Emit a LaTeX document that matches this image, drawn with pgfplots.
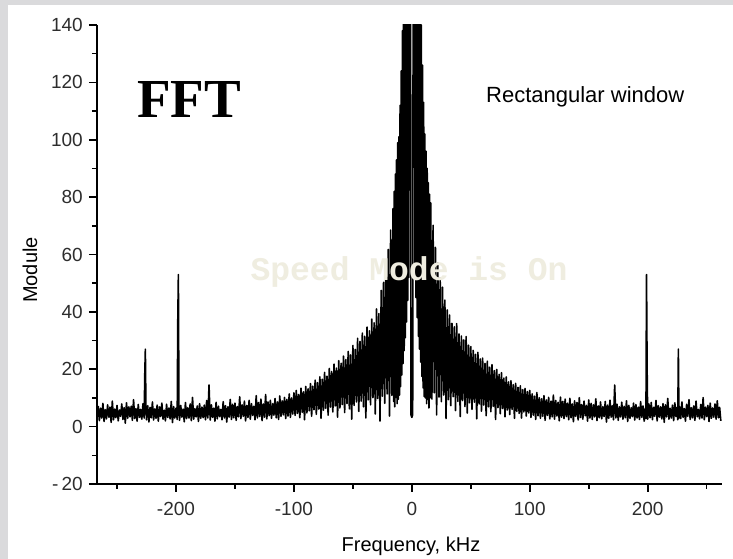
\documentclass[border=0pt]{standalone}
\usepackage{fontspec}
\setmainfont{Liberation Sans}
\newfontfamily\timesfont{Liberation Serif}
\newfontfamily\courfont{Liberation Mono}
\usepackage{pgfplots}
\pgfplotsset{compat=1.18}
\definecolor{framegray}{RGB}{218,218,220}
\definecolor{wmark}{RGB}{239,237,224}
\definecolor{ticktext}{RGB}{45,45,45}
\begin{document}
\begin{tikzpicture}
\useasboundingbox (0,0) rectangle (733bp,559bp);
\fill[framegray] (0,0) rectangle (733bp,559bp);
\fill[white] (8bp,0) rectangle (733bp,554bp);
\begin{axis}[
  at={(97bp,75bp)}, anchor=south west,
  scale only axis, width=625bp, height=459bp,
  xmin=-267, xmax=263, ymin=-20, ymax=140,
  axis x line*=bottom, axis y line*=left,
  axis line style={line width=1.8bp, black},
  tick align=outside,
  major tick length=8bp, minor tick length=5bp,
  tick style={line width=1.6bp, black},
  xtick={-200,-100,0,100,200},
  xticklabels={-200,-100,0,100,200},
  minor xtick={-250,-150,-50,50,150,250},
  ytick={-20,0,20,40,60,80,100,120,140},
  yticklabels={-\,20,0,20,40,60,80,100,120,140},
  minor ytick={-10,10,30,50,70,90,110,130},
  xticklabel style={font=\fontsize{19bp}{21bp}\selectfont, text=ticktext, inner sep=0pt, anchor=north, yshift=-10bp},
  yticklabel style={font=\fontsize{19bp}{21bp}\selectfont, text=ticktext, inner sep=0pt, anchor=east, xshift=-6bp},
  clip=true,
]
\addplot[black, line width=1.6bp, line join=round, mark=none] coordinates {
(-266,7.2)(-265,2.1)(-264,6.4)(-263,3.0)(-262,8.1)(-261,1.8)(-260,5.9)(-259,2.7)(-258,7.6)(-257,3.3)
(-256,6.8)(-255,1.5)(-254,8.9)(-253,2.4)(-252,6.1)(-251,3.1)(-250,7.4)(-249,2.0)(-248,5.8)(-247,3.6)
(-246,7.9)(-245,2.5)(-244,6.6)(-243,1.2)(-242,8.3)(-241,2.9)(-240,6.9)(-239,3.4)(-238,7.1)(-237,2.2)
(-236,9.4)(-235,2.8)(-234,6.3)(-233,1.9)(-232,7.7)(-231,3.2)(-230,6.0)(-229,2.6)(-228,8.0)(-227,3.0)
(-226.5,18)(-226,27)(-225.5,7.0)(-225,2.4)
(-224,7.3)(-223,1.6)(-222,6.7)(-221,3.1)(-220,8.6)(-219,2.3)(-218,6.2)(-217,2.9)(-216,7.5)(-215,1.9)
(-214,6.9)(-213,3.5)(-212,8.2)(-211,2.6)(-210,5.7)(-209,2.0)(-208,7.8)(-207,3.2)(-206,6.5)(-205,2.7)
(-204,8.8)(-203,1.4)(-202,7.0)(-201,3.0)(-200,6.4)(-199,2.5)
(-198.5,37)(-198,53)(-197.5,6.0)
(-197,2.2)(-196,7.4)(-195,3.3)(-194,6.1)(-193,1.7)(-192,8.4)(-191,2.8)
(-190,6.6)(-189,3.0)(-188,7.9)(-187,2.1)(-186,10.2)(-185,2.6)(-184,6.3)(-183,3.4)(-182,7.2)(-181,1.8)
(-180,8.0)(-179,2.9)(-178,6.8)(-177,3.1)(-176,7.5)(-175,2.4)(-174,9.1)(-173,3.0)
(-172,14.5)(-171,2.3)
(-170,7.6)(-169,3.2)(-168,6.4)(-167,1.9)(-166,8.5)(-165,2.7)(-164,7.1)(-163,3.5)(-162,6.0)(-161,2.4)
(-160,8.7)(-159,3.0)(-158,7.3)(-157,1.6)(-156,6.9)(-155,3.3)(-154,9.5)(-153,2.5)(-152,7.8)(-151,3.1)
(-150,8.2)(-149,2.2)(-148,7.0)(-147,3.4)(-146,10.4)(-145,2.8)(-144,7.6)(-143,3.6)(-142,8.9)(-141,2.0)
(-140,7.4)(-139,3.2)(-138,9.2)(-137,2.6)(-136,8.0)(-135,3.9)(-134,7.1)(-133,2.4)(-132,10.8)(-131,3.0)
(-130,8.4)(-129,3.5)(-128,9.6)(-127,2.1)(-126,7.9)(-125,3.3)(-124,11.2)(-123,2.7)(-122,8.6)(-121,3.8)
(-120,9.2)(-119,2.9)(-118,8.0)(-117,4.0)(-116,9.8)(-115,3.1)(-114,8.6)(-113,2.5)(-112,10.7)(-111,3.6)
(-110,9.0)(-109,4.1)(-108,10.2)(-107,2.8)(-106,9.5)(-105,3.7)(-104,11.4)(-103,3.2)(-102,10.0)(-101,4.4)
(-100,11.8)(-99,3.9)(-98,12.6)(-97,4.6)(-96,11.2)(-95,3.1)(-94,13.4)(-93,5.0)(-92,12.1)(-91,2.4)
(-90,14.0)(-89,4.8)(-88,13.2)(-87,5.5)(-86,15.0)(-85,3.6)(-84,14.1)(-83,5.9)(-82,16.2)(-81,4.3)
(-80,15.3)(-79,6.1)(-78,17.4)(-77,2.9)(-76,16.5)(-75,5.7)(-74,18.9)(-73,6.4)(-72,17.6)(-71,4.0)
(-70,20.3)(-69,6.8)(-68,19.2)(-67,5.1)(-66,21.8)(-65,7.2)(-64,20.4)(-63,3.3)(-62,23.0)(-61,6.5)
(-60,22.1)(-59,7.7)(-58,24.6)(-57,4.9)(-56,23.4)(-55,8.0)(-54,26.2)(-53,6.2)(-52,25.0)(-51,2.6)
(-50,28.3)(-49,7.4)(-48,26.9)(-47,8.6)(-46,30.8)(-45,5.3)(-44,29.7)(-43,8.9)(-42,32.6)(-41,6.9)
(-40,31.5)(-39,3.0)(-38,34.7)(-37,9.3)(-36,33.4)(-35,7.6)(-34,37.5)(-33,10.1)(-32,36.2)(-31,4.4)
(-30,41.0)(-29,9.8)(-28,39.4)(-27,1.9)(-26,47.5)(-25,10.6)(-24,50.3)(-23,8.1)(-22,56.4)(-21,11.4)
(-20,61.8)(-19,3.7)(-18,68.5)(-17,10.9)(-16,76.0)
(-15.5,8.8)(-15,82)(-14.5,6.9)(-14,88)(-13.5,10.2)(-13,93)(-12.5,8.0)(-12,99)(-11.5,9.5)(-11,101)
(-10.5,11.0)(-10,112)(-9.5,14.0)(-9,124)(-8.5,18.0)(-8,138)(-7.5,22.0)(-7,155)(-6.5,26.5)(-6,180)
(-5.5,31.0)(-5,200)(-4.5,36.5)(-4,220)(-3.5,44.0)(-3,240)(-2.6,52)(-2.2,270)(-1.9,98)(-1.5,320)
(-0.7,4.0)(0,3.2)(0.7,4.2)
(1.5,310)(1.9,105)(2.2,280)(2.6,55)(3,245)(3.5,45)(4,215)(4.5,38)(5,195)(5.5,31.5)
(6,178)(6.5,27)(7,158)(7.5,22.5)(8,140)(8.5,17.5)(9,126)(9.5,13.5)(10,113)(10.5,10.5)
(11,102)(11.5,10.0)(12,96)(12.5,8.0)(13,90)(13.5,9.5)(14,85)(14.5,6.5)(15,81)(15.5,10)
(16,78.0)(17,9.6)(18,70.2)(19,11.8)(20,62.5)(21,4.1)(22,57.0)(23,10.3)(24,51.8)(25,8.7)
(26,48.6)(27,11.0)(28,44.1)(29,2.8)(30,40.7)(31,9.4)(32,38.9)(33,7.3)(34,36.0)(35,10.4)
(36,34.8)(37,5.6)(38,35.9)(39,8.8)(40,32.3)(41,3.5)(42,31.6)(43,9.1)(44,30.2)(45,7.0)
(46,31.4)(47,4.7)(48,28.4)(49,8.3)(50,27.9)(51,6.0)(52,26.6)(53,8.5)(54,25.2)(55,2.7)
(56,25.9)(57,7.9)(58,23.6)(59,5.4)(60,23.9)(61,7.5)(62,22.0)(63,3.8)(64,22.8)(65,6.9)
(66,20.7)(67,5.2)(68,21.6)(69,7.1)(70,19.5)(71,2.5)(72,19.9)(73,6.6)(74,18.2)(75,4.5)
(76,18.8)(77,6.3)(78,16.9)(79,3.4)(80,17.3)(81,5.8)(82,15.6)(83,4.2)(84,16.0)(85,6.0)
(86,14.6)(87,2.9)(88,15.1)(89,5.3)(90,13.7)(91,4.6)(92,14.2)(93,3.0)(94,12.9)(95,5.1)
(96,13.3)(97,3.7)(98,12.2)(99,4.8)(100,12.6)
(101,3.2)(102,11.4)(103,4.0)(104,10.6)(105,2.5)(106,11.9)(107,3.8)(108,10.1)(109,2.9)(110,9.7)
(111,3.6)(112,10.8)(113,2.2)(114,9.3)(115,3.9)(116,10.2)(117,2.7)(118,8.9)(119,3.4)(120,11.0)
(121,2.6)(122,9.1)(123,3.7)(124,8.5)(125,2.0)(126,10.3)(127,3.3)(128,8.8)(129,2.8)(130,9.6)
(131,3.5)(132,8.2)(133,2.4)(134,9.9)(135,3.1)(136,7.9)(137,1.7)(138,9.0)(139,3.6)(140,8.4)
(141,2.3)(142,10.1)(143,3.2)(144,7.7)(145,2.6)(146,8.9)(147,3.8)(148,7.4)(149,1.9)(150,9.3)
(151,3.0)(152,8.1)(153,2.5)(154,7.6)(155,3.4)(156,9.7)(157,2.1)(158,7.2)(159,3.1)(160,8.6)
(161,2.7)(162,7.0)(163,3.5)(164,8.8)(165,1.6)(166,7.5)(167,2.9)(168,9.2)(169,3.3)(170,7.3)
(171,2.4)(172,14.5)(173,3.0)
(174,7.8)(175,2.2)(176,6.9)(177,3.4)(178,8.5)(179,2.6)(180,7.1)
(181,3.1)(182,9.0)(183,1.8)(184,7.4)(185,2.9)(186,6.6)(187,3.5)(188,8.2)(189,2.3)(190,7.7)
(191,3.0)(192,6.8)(193,2.5)(194,8.7)(195,3.2)(196,7.2)(197,1.9)(198,6.5)
(198.5,2.8)(199,53)(199.5,20.4)(200,2.6)
(201,7.9)(202,3.1)(203,8.4)(204,2.4)(205,6.7)(206,3.6)(207,9.1)(208,2.0)(209,7.3)(210,3.3)
(211,6.9)(212,2.7)(213,8.0)(214,1.5)(215,7.6)(216,3.4)(217,9.8)(218,2.6)(219,6.4)(220,3.0)
(221,7.5)(222,2.1)(223,8.3)(224,3.5)(225,6.8)
(225.5,2.4)(226,27)(226.5,3.0)
(227,7.0)(228,2.8)(229,8.6)(230,3.2)(231,6.3)(232,1.9)(233,7.8)(234,3.6)(235,9.4)(236,2.5)
(237,6.6)(238,3.1)(239,7.2)(240,2.2)(241,8.9)(242,3.4)(243,6.0)(244,2.7)(245,7.7)(246,3.0)
(247,10.1)(248,2.4)(249,6.8)(250,3.5)(251,7.4)(252,1.8)(253,8.2)(254,2.9)(255,6.5)(256,3.3)
(257,7.9)(258,2.6)(259,9.0)(260,3.1)(261,6.7)(262,2.0)
};
\end{axis}
\node[anchor=base west, inner sep=0pt, font=\timesfont\bfseries\fontsize{55bp}{60bp}\selectfont] at (137bp,441bp) {FFT};
\node[anchor=base west, inner sep=0pt, font=\fontsize{22bp}{24bp}\selectfont] at (486bp,456bp) {Rectangular window};
\node[rotate=90, inner sep=0pt, font=\fontsize{20bp}{22bp}\selectfont] at (30bp,289bp) {Module};
\node[anchor=base, inner sep=0pt, font=\fontsize{20bp}{22bp}\selectfont] at (411bp,8bp) {Frequency, kHz};
\node[inner sep=0pt, text=wmark, font=\courfont\bfseries\fontsize{33bp}{36bp}\selectfont] at (409bp,287bp) {Speed Mode is On};
\end{tikzpicture}
\end{document}
